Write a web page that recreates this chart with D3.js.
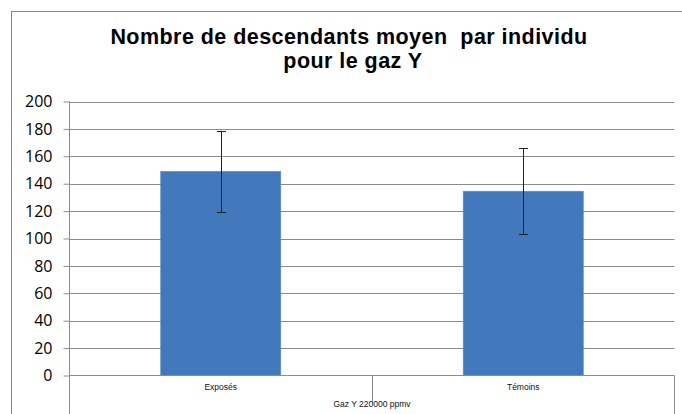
<!DOCTYPE html>
<html>
<head>
<meta charset="utf-8">
<script src="https://cdn.jsdelivr.net/npm/d3@7"></script>
<style>
  body { margin: 0; background: #fff; }
  text { font-family: "Liberation Sans", Arial, sans-serif; }
</style>
</head>
<body>
<div id="chart"></div>
<script>
let categories = ['Exposés', 'Témoins']
let means = [149, 134.5]
let errors = [29.6, 31.5]
let yTicks = [0, 20, 40, 60, 80, 100, 120, 140, 160, 180, 200]
let groupLabel = 'Gaz Y 220000 ppmv'
let titleLines = ['Nombre de descendants moyen  par individu', 'pour le gaz Y']

let width = 682
let height = 414
let plotLeft = 69.5
let plotRight = 674.5
let plotTop = 101.5
let plotBottom = 375.5

let svg = d3.select('#chart').append('svg')
  .attr('width', width)
  .attr('height', height)

// chart frame, runs off the right and bottom edges
svg.append('rect')
  .attr('x', 11.5).attr('y', 11.5)
  .attr('width', 700).attr('height', 420)
  .attr('fill', 'none')
  .attr('stroke', '#868686')

let x = d3.scaleBand()
  .domain(categories)
  .range([plotLeft, plotRight])
  .paddingInner(0.603)
  .paddingOuter(0.3015)

let y = d3.scaleLinear()
  .domain([0, 200])
  .range([plotBottom, plotTop])

// gridlines
svg.append('g')
  .selectAll('line')
  .data(yTicks.slice(1))
  .enter().append('line')
    .attr('x1', plotLeft).attr('x2', plotRight)
    .attr('y1', d => Math.round(y(d)) + 0.5)
    .attr('y2', d => Math.round(y(d)) + 0.5)
    .attr('stroke', '#8c8c8c')
    .attr('stroke-width', 1)

// y axis
let yAxis = svg.append('g')
  .attr('transform', `translate(${plotLeft},0)`)
  .call(d3.axisLeft(y).tickValues(yTicks).tickSize(6).tickPadding(11).tickSizeOuter(0))
yAxis.select('.domain').remove()
yAxis.selectAll('line').attr('stroke', '#8c8c8c')
yAxis.selectAll('text')
  .style('font-family', '"Open Sans", sans-serif')
  .style('font-size', '16px')
  .attr('fill', '#000')

// axis lines: left axis, category axis box
svg.append('line')
  .attr('x1', plotLeft).attr('x2', plotLeft)
  .attr('y1', plotTop).attr('y2', height)
  .attr('stroke', '#8c8c8c')
svg.append('line')
  .attr('x1', plotRight).attr('x2', plotRight)
  .attr('y1', plotBottom).attr('y2', height)
  .attr('stroke', '#8c8c8c')

// bars
svg.append('g')
  .selectAll('rect')
  .data(categories)
  .enter().append('rect')
    .attr('x', d => x(d))
    .attr('y', (d, i) => y(means[i]))
    .attr('width', x.bandwidth())
    .attr('height', (d, i) => y(0) - y(means[i]))
    .attr('fill', '#4279bd')
    .attr('stroke', '#5b8cc8')
    .attr('stroke-width', 0.6)

svg.append('line')
  .attr('x1', plotLeft).attr('x2', plotRight)
  .attr('y1', plotBottom).attr('y2', plotBottom)
  .attr('stroke', '#8c8c8c')

// divider between categories
let divider = (x(categories[0]) + x.bandwidth() + x(categories[1])) / 2
svg.append('line')
  .attr('x1', Math.round(divider) + 0.5).attr('x2', Math.round(divider) + 0.5)
  .attr('y1', plotBottom).attr('y2', 403)
  .attr('stroke', '#8c8c8c')

// error bars
let eb = svg.append('g')
  .selectAll('g')
  .data(categories)
  .enter().append('g')
    .attr('stroke', '#222')
    .attr('stroke-width', 1)
eb.append('line')
  .attr('x1', d => Math.round(x(d) + x.bandwidth() / 2) + 0.5)
  .attr('x2', d => Math.round(x(d) + x.bandwidth() / 2) + 0.5)
  .attr('y1', (d, i) => y(means[i] + errors[i]))
  .attr('y2', (d, i) => y(means[i] - errors[i]))
eb.each(function(d, i) {
  let cx = Math.round(x(d) + x.bandwidth() / 2) + 0.5
  let g = d3.select(this)
  ;[means[i] + errors[i], means[i] - errors[i]].forEach(v => {
    g.append('line')
      .attr('x1', cx - 4.5).attr('x2', cx + 4.5)
      .attr('y1', Math.round(y(v)) + 0.5).attr('y2', Math.round(y(v)) + 0.5)
  })
})

// category labels
svg.append('g')
  .selectAll('text')
  .data(categories)
  .enter().append('text')
    .attr('x', d => x(d) + x.bandwidth() / 2)
    .attr('y', 390)
    .attr('text-anchor', 'middle')
    .style('font-size', '8.5px')
    .attr('fill', '#111')
    .text(d => d)

svg.append('text')
  .attr('x', (plotLeft + plotRight) / 2)
  .attr('y', 407)
  .attr('text-anchor', 'middle')
  .style('font-size', '8.5px')
  .attr('fill', '#111')
  .text(groupLabel)

// title
svg.append('text')
  .attr('text-anchor', 'middle')
  .style('font-size', '21.5px')
  .style('font-weight', 'bold')
  .style('letter-spacing', '0.45px')
  .style('white-space', 'pre')
  .selectAll('tspan')
  .data(titleLines)
  .enter().append('tspan')
    .attr('x', (d, i) => i ? 353 : 349)
    .attr('y', (d, i) => 44 + i * 24)
    .text(d => d)
</script>
</body>
</html>
